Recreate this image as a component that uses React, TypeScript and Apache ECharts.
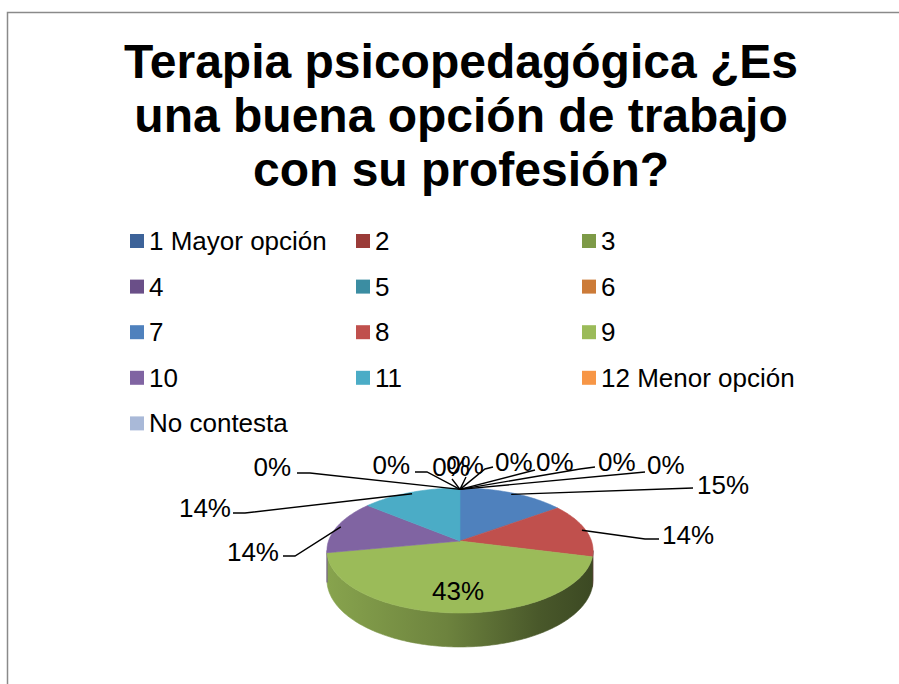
import React, { useEffect, useRef } from 'react';
import * as echarts from 'echarts';

// ---------- data ----------
const categories = ['1 Mayor opción', '2', '3', '4', '5', '6', '7', '8', '9', '10', '11', '12 Menor opción', 'No contesta'];
const percentages = [15, 14, 43, 14, 14, 0, 0, 0, 0, 0, 0, 0, 0];
const legendColors = ['#3D6399', '#9A3B38', '#7D9A47', '#6A4F88', '#3B8DA2', '#CC7B38', '#4F81BD', '#C0504D', '#9BBB59', '#8064A2', '#4BACC6', '#F79646', '#A9B9D8'];
const faceColors = ['#4F81BD', '#C0504D', '#9BBB59', '#8064A2', '#4BACC6', '#F79646', '#5A8FD0', '#D35B57', '#ABCB66', '#8E71B3', '#56BDD9', '#FFA552', '#BACBEA'];
const titleText = 'Terapia psicopedagógica ¿Es\nuna buena opción de trabajo\ncon su profesión?';

// ---------- layout (pixels) ----------
const labelLayout: { x: number; y: number; align: string; line: number[][] }[] = [
  { x: 697, y: 485, align: 'left', line: [[693, 488]] },
  { x: 662, y: 535, align: 'left', line: [[645, 539], [659, 539]] },
  { x: 458, y: 591, align: 'center', line: [] },
  { x: 279, y: 552, align: 'right', line: [[295, 556], [283, 556]] },
  { x: 231, y: 508, align: 'right', line: [[245, 513], [233, 513]] },
  { x: 291, y: 467, align: 'right', line: [[310, 473], [297, 473]] },
  { x: 410, y: 465, align: 'right', line: [[427, 472], [415, 472]] },
  { x: 451, y: 467, align: 'center', line: [[452, 479]] },
  { x: 465, y: 465, align: 'center', line: [[466, 477]] },
  { x: 495, y: 462, align: 'left', line: [[485, 469], [493, 467]] },
  { x: 536, y: 462, align: 'left', line: [[535, 470]] },
  { x: 598, y: 462, align: 'left', line: [[580, 469], [595, 467]] },
  { x: 647, y: 465, align: 'left', line: [[645, 472]] },
];

const FONT = '"Liberation Sans", Arial, sans-serif';
const CX = 460, CY = 541, RX = 131.5, RY = 61.06, K = 0.152, DEPTH = 28.8;
const VIS0 = (Math.acos(-K) * 180) / Math.PI;
const VIS1 = 360 - VIS0;

const total = percentages.reduce((a, b) => a + b, 0);
const starts: number[] = [];
{
  let acc = 0;
  for (const v of percentages) {
    starts.push((acc / total) * 360);
    acc += v;
  }
}

function project(theta: number, r = 1) {
  const t = (theta * Math.PI) / 180;
  const u = Math.sin(t) * r;
  const v = Math.cos(t) * r;
  const d = 1 + K * v;
  return { x: CX + (RX * u) / d, y: CY - (RY * v) / d, d };
}

function shade(hex: string, f: number) {
  const n = parseInt(hex.slice(1), 16);
  const r = Math.round(((n >> 16) & 255) * f);
  const g = Math.round(((n >> 8) & 255) * f);
  const b = Math.round((n & 255) * f);
  return `rgb(${r},${g},${b})`;
}

function arcPoints(a: number, b: number, dropped: boolean) {
  const pts: number[][] = [];
  const steps = Math.max(2, Math.ceil(b - a));
  for (let s = 0; s <= steps; s++) {
    const th = a + ((b - a) * s) / steps;
    const p = project(th);
    pts.push([p.x, dropped ? p.y + DEPTH / p.d : p.y]);
  }
  return pts;
}

const renderTop = (params: any, api: any) => {
  const i = params.dataIndex;
  const v = api.value(1);
  if (!(v > 0)) return { type: 'group', children: [] };
  const a = starts[i];
  const b = a + (v / total) * 360;
  const points = [[CX, CY], ...arcPoints(a, b, false)];
  return {
    type: 'polygon',
    shape: { points },
    style: { fill: faceColors[i], stroke: faceColors[i], lineWidth: 0.6 },
  };
};

const renderSide = (params: any, api: any) => {
  const i = params.dataIndex;
  const v = api.value(1);
  if (!(v > 0)) return { type: 'group', children: [] };
  const a = starts[i];
  const b = a + (v / total) * 360;
  const s = Math.max(a, VIS0);
  const e = Math.min(b, VIS1);
  if (s >= e) return { type: 'group', children: [] };
  const top = arcPoints(s, e, false);
  const bottom = arcPoints(s, e, true).reverse();
  const c = faceColors[i];
  const fill = new echarts.graphic.LinearGradient(
    CX - RX,
    0,
    CX + RX,
    0,
    [
      { offset: 0, color: shade(c, 0.87) },
      { offset: 0.45, color: shade(c, 0.7) },
      { offset: 0.8, color: shade(c, 0.47) },
      { offset: 1, color: shade(c, 0.39) },
    ],
    true
  );
  return {
    type: 'polygon',
    shape: { points: [...top, ...bottom] },
    style: { fill, stroke: fill, lineWidth: 0.6 },
  };
};

const renderLabel = (params: any, api: any) => {
  const i = params.dataIndex;
  const v = api.value(1);
  const a = starts[i];
  const b = a + (v / total) * 360;
  const mid = (a + b) / 2;
  const L = labelLayout[i];
  const children: any[] = [];
  if (L.line.length) {
    const p = project(mid, 0.97);
    children.push({
      type: 'polyline',
      shape: { points: [[p.x, p.y], ...L.line] },
      style: { stroke: '#000', lineWidth: 1.4, fill: 'none' },
    });
  }
  children.push({
    type: 'text',
    x: L.x,
    y: L.y,
    style: {
      text: Math.round((v / total) * 100) + '%',
      font: `26px ${FONT}`,
      fill: '#000',
      align: L.align,
      verticalAlign: 'middle',
    },
  });
  return { type: 'group', children };
};

export default function App() {
  const ref = useRef<HTMLDivElement>(null);
  useEffect(() => {
    document.body.style.margin = '0';
    if (!ref.current) return;
    const chart = echarts.init(ref.current, undefined, { renderer: 'svg' });
    const seriesData = percentages.map((v, i) => [i, v]);
    chart.setOption({
      animation: false,
      backgroundColor: '#ffffff',
      graphic: [
        {
          type: 'rect',
          silent: true,
          shape: { x: 7.5, y: 12.5, width: 1000, height: 1000 },
          style: { fill: 'none', stroke: '#8A8A8A', lineWidth: 1.5 },
        },
        {
          type: 'text',
          x: 461,
          y: 34,
          style: {
            text: titleText,
            font: `bold 48px ${FONT}`,
            fill: '#000',
            align: 'center',
            verticalAlign: 'top',
            lineHeight: 54,
          },
        },
      ],
      legend: {
        data: categories,
        left: 130,
        top: 224.2,
        width: 680,
        orient: 'horizontal',
        padding: 0,
        itemWidth: 14,
        itemHeight: 14,
        itemGap: 12,
        icon: 'rect',
        selectedMode: false,
        textStyle: {
          fontSize: 26,
          fontFamily: FONT,
          color: '#000',
          width: 195,
          lineHeight: 33.6,
        },
      },
      series: [
        {
          type: 'pie',
          name: 'leyenda',
          radius: 0,
          center: [-100, -100],
          silent: true,
          label: { show: false },
          labelLine: { show: false },
          data: categories.map((n, i) => ({ name: n, value: percentages[i], itemStyle: { color: legendColors[i] } })),
        },
        { type: 'custom', name: 'lados', coordinateSystem: 'none', silent: true, z: 1, data: seriesData, renderItem: renderSide },
        { type: 'custom', name: 'caras', coordinateSystem: 'none', silent: true, z: 2, data: seriesData, renderItem: renderTop },
        { type: 'custom', name: 'etiquetas', coordinateSystem: 'none', silent: true, z: 3, data: seriesData, renderItem: renderLabel },
      ],
    });
    return () => chart.dispose();
  }, []);
  return <div ref={ref} style={{ width: 899, height: 684 }} />;
}
